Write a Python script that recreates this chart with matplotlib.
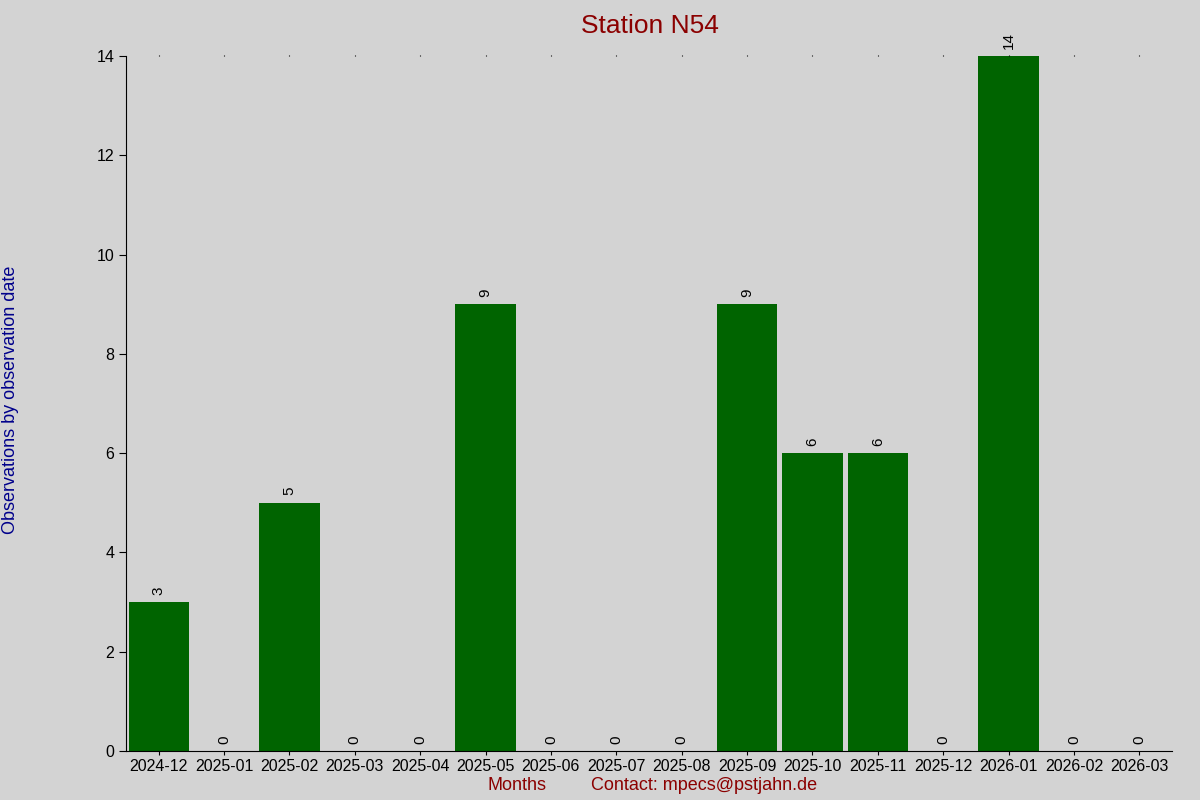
import matplotlib
matplotlib.use("Agg")
import matplotlib.pyplot as plt

plt.rcParams['font.family'] = ['Liberation Sans', 'DejaVu Sans']

months = ["2024-12","2025-01","2025-02","2025-03","2025-04","2025-05","2025-06","2025-07",
          "2025-08","2025-09","2025-10","2025-11","2025-12","2026-01","2026-02","2026-03"]
counts = [3,0,5,0,0,9,0,0,0,9,6,6,0,14,0,0]

bg = "#d3d3d3"
fig = plt.figure(figsize=(12, 8), dpi=100, facecolor=bg)
ax = fig.add_axes([126/1200, 49/800, (1172-126)/1200, (751-56)/800], facecolor=bg)
x = list(range(len(months)))
ax.bar(x, counts, width=0.92, color="#006400")
for xi, c in zip(x, counts):
    ax.text(xi, c + 0.15, str(c), rotation=90, ha="center", va="bottom", fontsize=11, color="black")
ax.set_xlim(-0.5, len(months) - 0.5)
ax.set_ylim(0, 14)
ax.set_yticks(range(0, 15, 2))
ax.set_xticks(x)
ax.set_xticklabels(months, fontsize=11.5)
ax.tick_params(axis='y', labelsize=11.5, direction='out', length=5)
ax.tick_params(axis='x', direction='out', length=3, top=True, pad=3)
ax.tick_params(axis='x', which='major', top=True)
for s in ["top", "right"]:
    ax.spines[s].set_visible(False)
ax.xaxis.set_tick_params(which='major', top=True, labeltop=False)
ax.xaxis.get_major_ticks()
for t in ax.xaxis.get_major_ticks():
    t.tick2line.set_markersize(1)

fig.text(0.5417, 0.982, "Station N54", ha="center", va="top", fontsize=19, color="#8b0000")
fig.text(517/1200, 14/800, "Months", ha="center", va="center", fontsize=13, color="#8b0000")
fig.text(704/1200, 14/800, "Contact: mpecs@pstjahn.de", ha="center", va="center", fontsize=13, color="#8b0000")
fig.text(11/1200, 0.5, "Observations by observation date", rotation=90, ha="center", va="center",
         fontsize=13, color="#00008b")
fig.savefig("out.png", dpi=100, facecolor=bg)
